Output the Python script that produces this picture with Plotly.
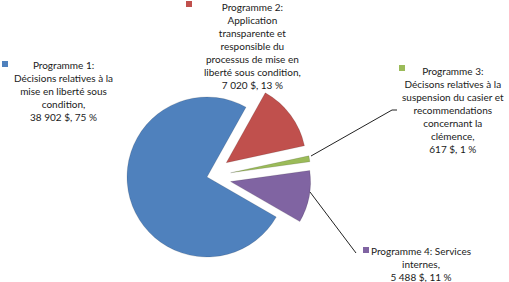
import plotly.graph_objects as go

W, H = 509, 282

programmes = ["Programme 1", "Programme 2", "Programme 3", "Programme 4"]
values = [38902, 7020, 617, 5488]
percent_labels = ["75 %", "13 %", "1 %", "11 %"]
amount_labels = ["38 902 $", "7 020 $", "617 $", "5 488 $"]
descriptions = [
    "Programme 1:<br>Décisions relatives à la<br>mise en liberté sous<br>condition,",
    "Programme 2:<br>Application<br>transparente et<br>responsible du<br>processus de mise en<br>liberté sous condition,",
    "Programme 3:<br>Décisons relatives à la<br>suspension du casier et<br>recommendations<br>concernant la<br>clémence,",
    "Programme 4: Services<br>internes,",
]
colors = ["#4F81BD", "#C0504D", "#9BBB59", "#8064A2"]
pulls = [0, 0.3, 0.3, 0.3]

CX, CY, HALF = 207, 177, 104

fig = go.Figure()
fig.add_trace(go.Pie(
    labels=programmes,
    values=values,
    sort=False,
    direction="clockwise",
    rotation=120,
    pull=pulls,
    marker=dict(colors=colors, line=dict(color="rgba(0,0,0,0.25)", width=0.5)),
    textinfo="none",
    hoverinfo="label+value+percent",
    showlegend=False,
    domain=dict(x=[(CX - HALF) / W, (CX + HALF) / W],
                y=[1 - (CY + HALF) / H, 1 - (CY - HALF) / H]),
))

def px(x):
    return x / W

def py(y):
    return 1 - y / H

# label positions (pixel): text centre x, text top y, square x, square y
label_pos = [
    (63, 57, 5, 64),
    (252, -1, 189, 4),
    (453, 63, 402, 68),
    (421, 243, 366, 250),
]

annotations = []
shapes = []
for i in range(4):
    cx, ty, sx, sy = label_pos[i]
    txt = descriptions[i] + "<br>" + amount_labels[i] + ", " + percent_labels[i]
    annotations.append(dict(
        x=px(cx), y=py(ty), xref="paper", yref="paper",
        xanchor="center", yanchor="top", align="center",
        text=txt, showarrow=False,
        font=dict(family="Lato, Open Sans, sans-serif", size=10, color="#1a1a1a"),
    ))
    shapes.append(dict(
        type="rect", xref="paper", yref="paper",
        x0=px(sx - 3), x1=px(sx + 3), y0=py(sy + 3), y1=py(sy - 3),
        fillcolor=colors[i], line=dict(width=0),
    ))

# leader lines
shapes.append(dict(type="path", xref="paper", yref="paper",
                   path=f"M {px(397)} {py(110)} L {px(392)} {py(110)} L {px(311)} {py(156)}",
                   line=dict(color="#222222", width=1)))
shapes.append(dict(type="path", xref="paper", yref="paper",
                   path=f"M {px(310)} {py(192)} L {px(356)} {py(253)}",
                   line=dict(color="#222222", width=1)))

fig.update_layout(
    width=W, height=H,
    margin=dict(l=0, r=0, t=0, b=0),
    paper_bgcolor="white", plot_bgcolor="white",
    annotations=annotations, shapes=shapes,
)

fig.write_html("out.html")
